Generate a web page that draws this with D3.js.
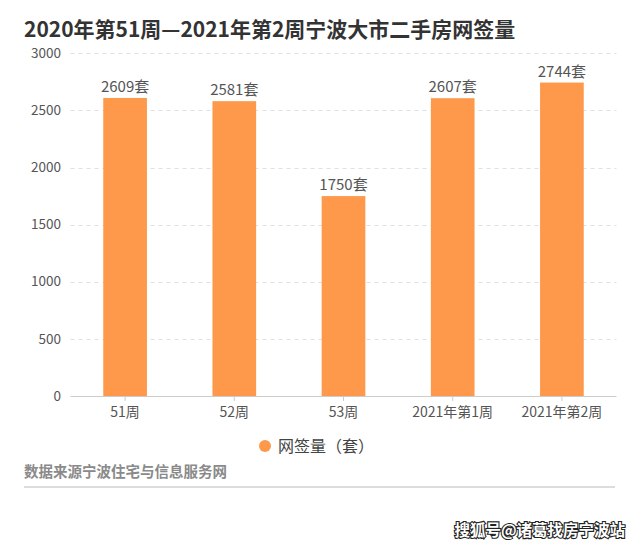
<!DOCTYPE html>
<html><head><meta charset="utf-8">
<script src="https://cdn.jsdelivr.net/npm/d3@7/dist/d3.min.js"></script>
<style>body{margin:0;background:#fff;}svg{display:block;font-family:"Noto Sans CJK SC","Noto Sans",sans-serif;}</style>
</head><body>
<svg id="c" width="641" height="548"></svg>
<script>
const categories = ["51周","52周","53周","2021年第1周","2021年第2周"];
const values = [2609,2581,1750,2607,2744];
const yTicks = [0,500,1000,1500,2000,2500,3000];
const unit = "套";
const title = "2020年第51周—2021年第2周宁波大市二手房网签量";
const legendLabel = "网签量（套）";
const source = "数据来源宁波住宅与信息服务网";
const watermark = "搜狐号@诸葛找房宁波站";

const svg = d3.select("#c");
const L = 70.5, R = 616.5, T = 53.3, B = 396;
const x = d3.scaleBand().domain(categories).range([L,R]).paddingInner(0.6).paddingOuter(0.3);
const y = d3.scaleLinear().domain([0,3000]).range([B,T]);
const barColor = "#fe994b";

svg.append("text").attr("x",24).attr("y",36.5).attr("font-size",21).attr("font-weight","bold")
  .attr("fill","#333").text(title);

// grid
svg.append("g").selectAll("line").data(yTicks.filter(d=>d>0)).join("line")
  .attr("x1",L).attr("x2",R).attr("y1",d=>Math.round(y(d))+0.5).attr("y2",d=>Math.round(y(d))+0.5)
  .attr("stroke","#e0e0e0").attr("stroke-dasharray","4,4");

// y labels
svg.append("g").selectAll("text").data(yTicks).join("text")
  .attr("x",61).attr("y",d=>y(d)).attr("dy","0.35em").attr("text-anchor","end")
  .attr("font-size",13.5).attr("fill","#555").text(d=>d);

// bars
svg.append("g").selectAll("rect").data(values).join("rect")
  .attr("x",(d,i)=>x(categories[i])).attr("width",x.bandwidth())
  .attr("y",d=>y(d)).attr("height",d=>B-y(d)).attr("fill",barColor);

// bar labels
svg.append("g").selectAll("text").data(values).join("text")
  .attr("x",(d,i)=>x(categories[i])+x.bandwidth()/2).attr("y",d=>y(d)-6)
  .attr("text-anchor","middle").attr("font-size",15).attr("fill","#555").text(d=>d+unit);

// x axis
svg.append("line").attr("x1",L).attr("x2",R).attr("y1",B+0.5).attr("y2",B+0.5).attr("stroke","#ccc");
svg.append("g").selectAll("line").data(categories).join("line")
  .attr("x1",d=>x(d)+x.bandwidth()/2).attr("x2",d=>x(d)+x.bandwidth()/2)
  .attr("y1",B).attr("y2",B+5).attr("stroke","#ccc");
svg.append("g").selectAll("text").data(categories).join("text")
  .attr("x",d=>x(d)+x.bandwidth()/2).attr("y",B+21).attr("text-anchor","middle")
  .attr("font-size",14).attr("fill","#555").text(d=>d);

// legend
svg.append("circle").attr("cx",265).attr("cy",446).attr("r",6).attr("fill",barColor);
svg.append("text").attr("x",278).attr("y",446).attr("dy","0.35em").attr("font-size",16)
  .attr("fill","#444").text(legendLabel);

// source
svg.append("text").attr("x",24).attr("y",477).attr("font-size",14.5).attr("font-weight","bold")
  .attr("fill","#8a8a8a").text(source);
svg.append("line").attr("x1",24).attr("x2",615).attr("y1",487).attr("y2",487)
  .attr("stroke","#ddd").attr("stroke-width",2);

// watermark
svg.append("text").attr("x",625).attr("y",536).attr("text-anchor","end").attr("font-size",15.5)
  .attr("font-weight","bold").attr("fill","#fff").attr("stroke","#222").attr("stroke-width",2.2)
  .attr("paint-order","stroke").text(watermark);
</script>
</body></html>
